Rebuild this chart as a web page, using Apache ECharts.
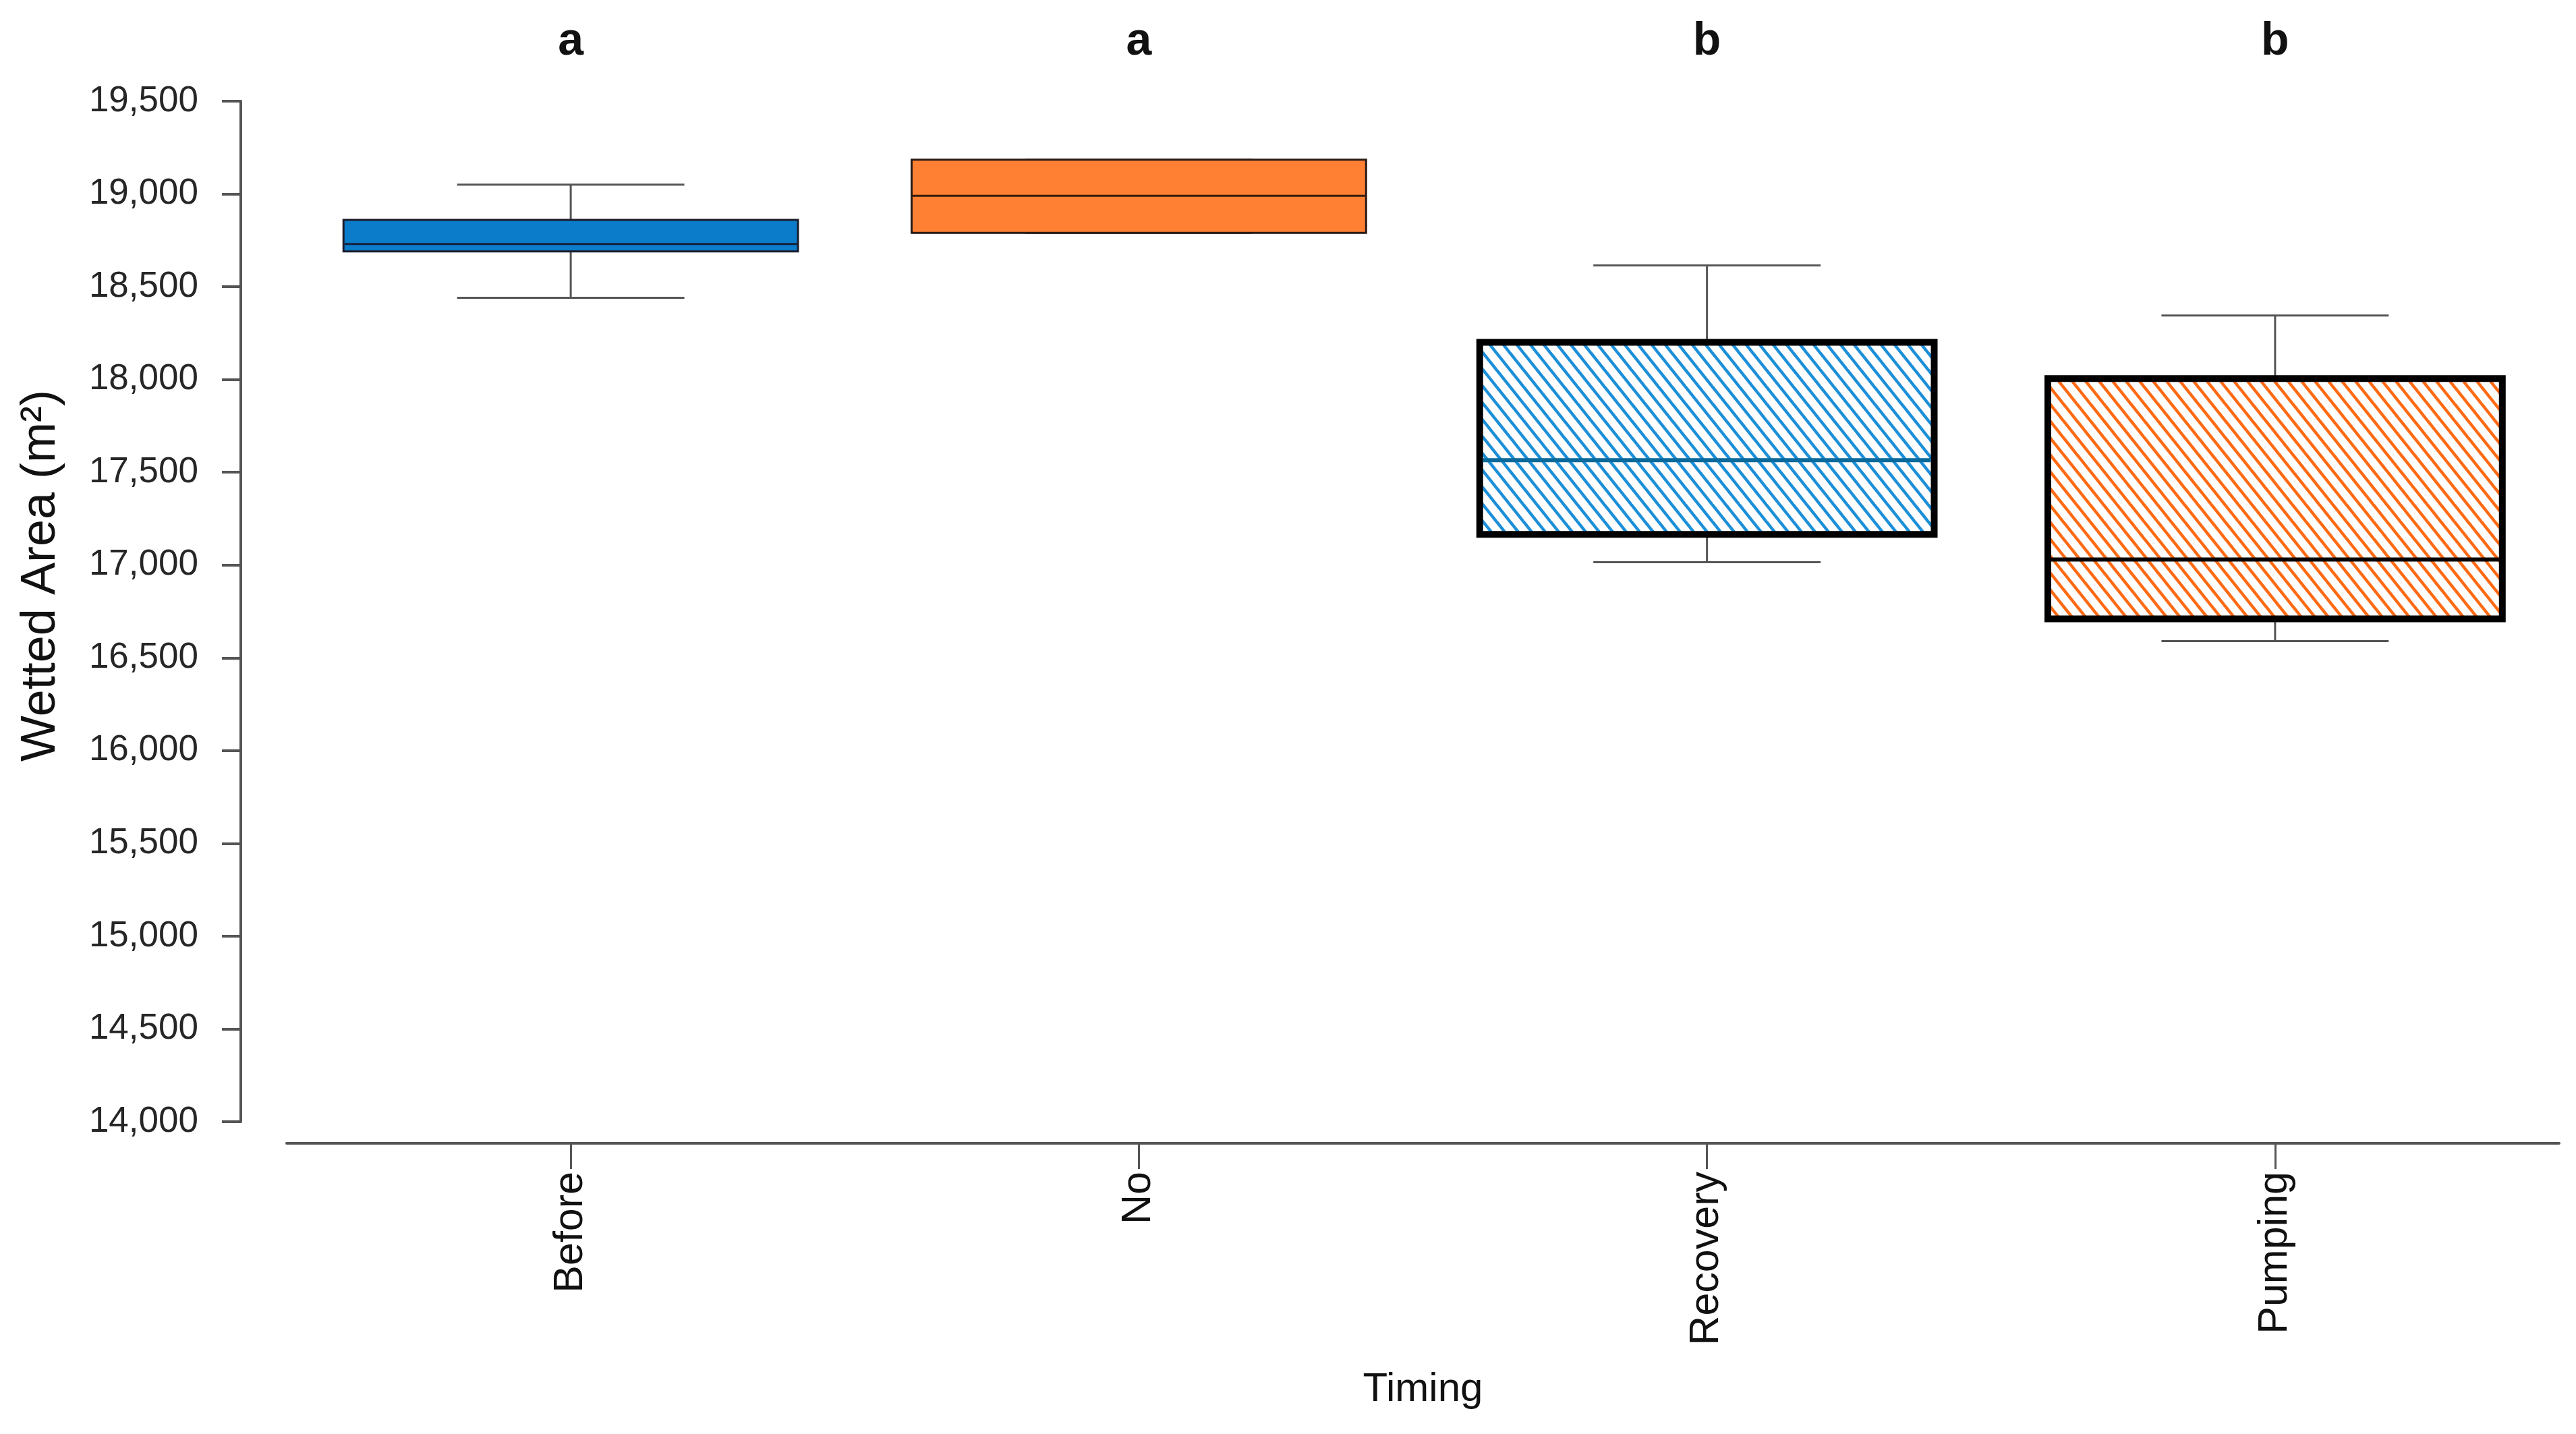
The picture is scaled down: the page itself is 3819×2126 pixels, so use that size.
<!DOCTYPE html>
<html>
<head>
<meta charset="utf-8">
<script src="https://cdn.jsdelivr.net/npm/echarts@6/dist/echarts.min.js"></script>
<style>
html,body{margin:0;padding:0;background:#fff;}
#chart{width:3819px;height:2126px;}
</style>
</head>
<body>
<div id="chart"></div>
<script>
// ---- data ----
const categories = ['Before', 'No', 'Recovery', 'Pumping'];
const letters = ['a', 'a', 'b', 'b'];
const whiskerLow = [18440, 18790, 17015, 16590];
const q1 = [18690, 18790, 17165, 16710];
const median = [18730, 18990, 17565, 17030];
const q3 = [18860, 19185, 18200, 18005];
const whiskerHigh = [19050, 19185, 18615, 18345];
const yTicksMin = 14000;
const yTicksMax = 19500;
const yTickStep = 500;

// ---- styles ----
const FONT = "'Liberation Sans', Arial, sans-serif";
function hatch(color) {
  const w = 20, h = 25;
  const c = document.createElement('canvas');
  c.width = w; c.height = h;
  const ctx = c.getContext('2d');
  ctx.fillStyle = '#ffffff';
  ctx.fillRect(0, 0, w, h);
  ctx.strokeStyle = color;
  ctx.lineWidth = 4.5;
  for (let k = -1; k <= 1; k++) {
    ctx.beginPath();
    ctx.moveTo(k * w - w * 0.2, -h * 0.2);
    ctx.lineTo(k * w + w * 1.2, h * 1.2);
    ctx.stroke();
  }
  return c;
}
const boxStyles = [
  { fill: '#0A7CC9', stroke: '#1b1b2b', lineWidth: 3, med: '#14213a', medWidth: 3 },
  { fill: '#FF8033', stroke: '#2a1a14', lineWidth: 3, med: '#3a1c10', medWidth: 3 },
  { fill: { image: hatch('#1C8FD9'), repeat: 'repeat' }, stroke: '#000000', lineWidth: 10, med: '#0B6A9C', medWidth: 6 },
  { fill: { image: hatch('#FF6A13'), repeat: 'repeat' }, stroke: '#000000', lineWidth: 10, med: '#000000', medWidth: 6 }
];

const seriesData = categories.map((c, i) => [i, whiskerLow[i], q1[i], median[i], q3[i], whiskerHigh[i]]);

function renderItem(params, api) {
  const i = api.value(0);
  const st = boxStyles[i];
  const band = api.size([1, 0])[0];
  const boxW = band * 0.8;
  const capW = boxW / 2;
  const pLow = api.coord([i, api.value(1)]);
  const pQ1 = api.coord([i, api.value(2)]);
  const pMed = api.coord([i, api.value(3)]);
  const pQ3 = api.coord([i, api.value(4)]);
  const pHigh = api.coord([i, api.value(5)]);
  const x = pMed[0];
  const wStyle = { stroke: '#555555', lineWidth: 3 };
  return {
    type: 'group',
    children: [
      { type: 'line', shape: { x1: x, y1: pHigh[1], x2: x, y2: pQ3[1] }, style: wStyle },
      { type: 'line', shape: { x1: x, y1: pQ1[1], x2: x, y2: pLow[1] }, style: wStyle },
      { type: 'line', shape: { x1: x - capW / 2, y1: pHigh[1], x2: x + capW / 2, y2: pHigh[1] }, style: wStyle },
      { type: 'line', shape: { x1: x - capW / 2, y1: pLow[1], x2: x + capW / 2, y2: pLow[1] }, style: wStyle },
      { type: 'rect', shape: { x: x - boxW / 2, y: pQ3[1], width: boxW, height: pQ1[1] - pQ3[1] },
        style: { fill: st.fill, stroke: st.stroke, lineWidth: st.lineWidth } },
      { type: 'line', shape: { x1: x - boxW / 2 + st.lineWidth / 2, y1: pMed[1], x2: x + boxW / 2 - st.lineWidth / 2, y2: pMed[1] },
        style: { stroke: st.med, lineWidth: st.medWidth } }
    ]
  };
}

const chart = echarts.init(document.getElementById('chart'), null, { renderer: 'canvas' });
chart.setOption({
  backgroundColor: '#ffffff',
  animation: false,
  grid: { left: 425, right: 25, top: 150, bottom: 463, outerBoundsMode: 'none' },
  xAxis: [
    {
      type: 'category',
      data: categories,
      position: 'bottom',
      offset: 32,
      boundaryGap: true,
      axisLine: { show: true, lineStyle: { color: '#555555', width: 4 } },
      axisTick: { show: true, alignWithLabel: true, length: 38, lineStyle: { color: '#555555', width: 3 } },
      axisLabel: { rotate: 90, margin: 42, fontSize: 61, color: '#111111', fontFamily: FONT },
      splitLine: { show: false },
      name: 'Timing',
      nameLocation: 'middle',
      nameGap: 335,
      nameTextStyle: { fontSize: 60, color: '#111111', fontFamily: FONT }
    },
    {
      type: 'category',
      data: categories,
      position: 'top',
      boundaryGap: true,
      axisLine: { show: false },
      axisTick: { show: false },
      axisLabel: {
        margin: 54, fontSize: 68, fontWeight: 'bold', color: '#111111', fontFamily: FONT,
        formatter: (v, idx) => letters[idx]
      },
      splitLine: { show: false }
    }
  ],
  yAxis: {
    type: 'value',
    min: yTicksMin,
    max: yTicksMax,
    interval: yTickStep,
    offset: 68,
    axisLine: { show: true, lineStyle: { color: '#555555', width: 4 } },
    axisTick: { show: true, length: 28, lineStyle: { color: '#555555', width: 4 } },
    axisLabel: {
      margin: 63, fontSize: 53, color: '#262626', fontFamily: FONT,
      formatter: v => Number(v).toLocaleString('en-US')
    },
    splitLine: { show: false },
    name: 'Wetted Area (m²)',
    nameLocation: 'middle',
    nameGap: 260,
    nameTextStyle: { fontSize: 72, color: '#111111', fontFamily: FONT, padding: [0, 0, 0, 106] }
  },
  series: [{
    type: 'custom',
    xAxisIndex: 0,
    yAxisIndex: 0,
    renderItem: renderItem,
    encode: { x: 0, y: [1, 2, 3, 4, 5] },
    data: seriesData
  }]
});
</script>
</body>
</html>
